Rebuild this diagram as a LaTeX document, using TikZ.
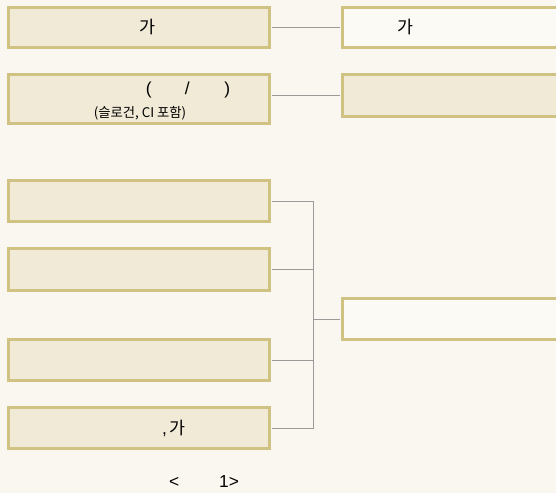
\documentclass[tikz,border=0pt]{standalone}
\usepackage{fontspec}
\setmainfont{Liberation Sans}
\newfontfamily\kr{Noto Sans CJK KR}
\usepackage{color}
\definecolor{paper}{HTML}{FAF7F0}
\definecolor{boxfill}{HTML}{F0EAD6}
\definecolor{boxlight}{HTML}{FCFAF4}
\definecolor{boxedge}{HTML}{D0C283}
\definecolor{linkgray}{HTML}{9A9A9A}

\begin{document}
\begin{tikzpicture}
      [x = 0.75pt, y = -0.75pt,
      box/.style= {
         draw = boxedge,
         fill = boxfill,
         line width = 2.25pt,
         rectangle,
         inner sep = 0pt,
         minimum width = 195.75pt,
         minimum height = 30.75pt
      },
      openbox/.style= {box, fill = boxlight},
      link/.style= {
         draw = linkgray,
         line width = 0.75pt
      },
      word/.style= {inner sep = 0pt, font = \fontsize{13}{15}\selectfont},
      note/.style= {inner sep = 0pt, font = \kr\fontsize{10}{12}\selectfont}]

      \useasboundingbox[fill = paper] (0, 0) rectangle (556, 493);
      \clip (0, 0) rectangle (556, 493);

      \node[box, minimum height = 30pt] (name) at (139, 27.5) {};
      \node[box, minimum height = 36.75pt] (slogan) at (139, 99) {};
      \node[box] (partA) at (139, 201) {};
      \node[box, minimum height = 31.5pt] (partB) at (139, 269.5) {};
      \node[box] (partC) at (139, 360) {};
      \node[box] (partD) at (139, 428) {};

      \node[openbox, minimum height = 30pt] (nameR) at (473, 27.5) {};
      \node[box, minimum height = 31.5pt] (sloganR) at (473, 95.5) {};
      \node[openbox] (result) at (473, 319) {};

      \coordinate (joint) at (313, 319);

      \draw[link, shorten <= 0.6pt, shorten >= 0.6pt] (name.east) -- (nameR.west);
      \draw[link, shorten <= 0.6pt, shorten >= 0.6pt] (slogan.east |- sloganR.west) -- (sloganR.west);
      \draw[link, shorten <= 0.6pt] (partA.east) -| (joint);
      \draw[link, shorten <= 0.6pt] (partB.east) -| (joint);
      \draw[link, shorten <= 0.6pt] (partC.east) -| (joint);
      \draw[link, shorten <= 0.6pt] (partD.east) -| (joint);
      \draw[link, shorten >= 0.6pt] (joint) -- (result.west);

      \node[word] (nameText) at (147, 27) {\kr 가};
      \node[word] (sloganText) at (188, 90) {(\hspace{25pt}/\hspace{26pt})};
      \node[note] (sloganNote) at (140, 113) {(슬로건, CI 포함)};
      \node[word] (nameRText) at (405, 27) {\kr 가};
      \node[word] (partDText) at (174, 428) {,\,{\kr 가}};
      \node[word] (caption) at (204, 482) {<\hspace{30pt}1>};

   \end{tikzpicture}
\end{document}
